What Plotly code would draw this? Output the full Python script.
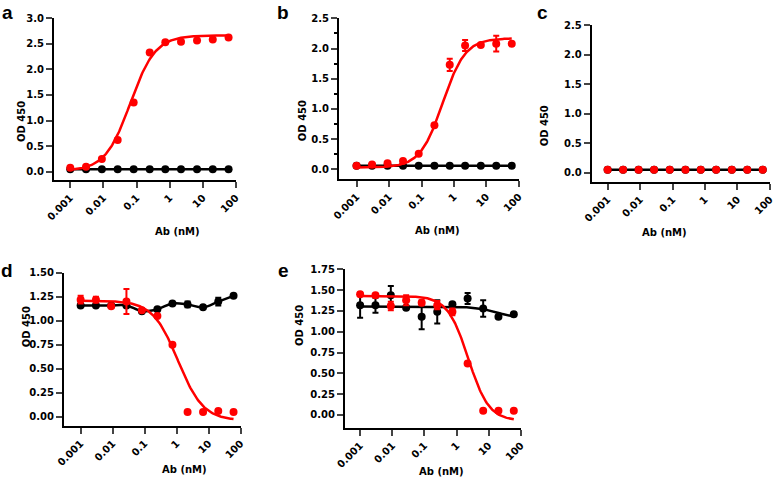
import numpy as np
import plotly.graph_objects as go

# antibody concentrations (nM), 3-fold dilution series
conc = [0.001, 0.003, 0.009, 0.027, 0.082, 0.25, 0.74, 2.2, 6.7, 20, 60]
x_tickvals = [0.001, 0.01, 0.1, 1, 10, 100]
x_ticktext = ["0.001", "0.01", "0.1", "1", "10", "100"]

# panel a
a_red = [0.08, 0.10, 0.25, 0.62, 1.35, 2.33, 2.53, 2.54, 2.56, 2.58, 2.62]
a_black = [0.05, 0.05, 0.05, 0.05, 0.05, 0.05, 0.05, 0.05, 0.05, 0.05, 0.05]
a_red_fit = [0.02, 2.66, 0.065, 1.15]          # bottom, top, EC50, hill

# panel b
b_red = [0.06, 0.08, 0.10, 0.14, 0.26, 0.73, 1.73, 2.05, 2.06, 2.08, 2.08]
b_red_err = [0, 0, 0, 0, 0, 0, 0.10, 0.09, 0, 0.13, 0]
b_black = [0.06, 0.06, 0.06, 0.06, 0.06, 0.06, 0.06, 0.06, 0.06, 0.06, 0.06]
b_red_fit = [0.03, 2.17, 0.45, 1.25]

# panel c
c_red = [0.05, 0.05, 0.05, 0.05, 0.05, 0.05, 0.05, 0.05, 0.05, 0.05, 0.05]
c_black = [0.05, 0.05, 0.05, 0.05, 0.05, 0.05, 0.05, 0.05, 0.05, 0.05, 0.05]

# panel d
d_red = [1.22, 1.22, 1.15, 1.20, 1.11, 1.05, 0.75, 0.05, 0.05, 0.06, 0.05]
d_red_err = [0.04, 0.03, 0, 0.13, 0, 0, 0, 0, 0, 0, 0]
d_black = [1.16, 1.16, 1.16, 1.16, 1.10, 1.12, 1.18, 1.17, 1.14, 1.20, 1.26]
d_black_err = [0, 0, 0, 0, 0, 0, 0, 0.03, 0, 0.04, 0]
d_red_fit = [-0.04, 1.21, 1.1, 1.1]

# panel e
e_red = [1.45, 1.44, 1.31, 1.38, 1.35, 1.32, 1.24, 0.62, 0.05, 0.05, 0.05]
e_red_err = [0, 0, 0.05, 0.06, 0.03, 0.05, 0.04, 0, 0, 0, 0]
e_black = [1.32, 1.32, 1.44, 1.29, 1.18, 1.24, 1.33, 1.40, 1.28, 1.18, 1.21]
e_black_err = [0.15, 0.09, 0.11, 0, 0.15, 0.14, 0, 0.065, 0.10, 0, 0]
e_red_fit = [-0.07, 1.43, 2.3, 1.35]
e_black_fit = [1.15, 1.305, 20, 1.2]

W, H = 775, 484
FONT = "DejaVu Sans, Arial, sans-serif"
LFONT = "Liberation Sans, Arial, sans-serif"
RED = "#ff0000"
BLACK = "#000000"


def four_pl(x, p, rising=True):
    bottom, top, mid, hill = p
    r = (x / mid) ** hill
    if rising:
        return bottom + (top - bottom) * r / (1 + r)
    return bottom + (top - bottom) / (1 + r)


xfit = np.logspace(np.log10(conc[0]), np.log10(conc[-1]), 200)

# pixel boxes: left, right, top, bottom; y range and ticks; letter centre; y-title x
panels = {
    "a": dict(box=(54, 236, 18, 180), xr=-3.49, yr=(-0.16, 3.0), dt=0.5, fmt=".1f", minor=False, lc=(7, 12), tx=14),
    "b": dict(box=(339, 519, 18.3, 179), xr=-3.54, yr=(-0.16, 2.5), dt=0.5, fmt=".1f", minor=True, lc=(283, 12), tx=302),
    "c": dict(box=(591.7, 770, 25, 181.7), xr=-3.49, yr=(-0.152, 2.5), dt=0.5, fmt=".1f", minor=False, lc=(542, 12), tx=552),
    "d": dict(box=(64, 240.7, 272.7, 425.7), xr=-3.52, yr=(-0.094, 1.5), dt=0.25, fmt=".2f", minor=False, lc=(7, 270), tx=19),
    "e": dict(box=(345, 521, 269.3, 427.7), xr=-3.47, yr=(-0.153, 1.75), dt=0.25, fmt=".2f", minor=False, lc=(283, 270), tx=299),
}

fig = go.Figure()
layout = {}
annotations = []
tfont = dict(family=FONT, size=10, color=BLACK, weight="bold")

for i, (name, p) in enumerate(panels.items()):
    n = "" if i == 0 else str(i + 1)
    l, r, t, b = p["box"]
    xa = dict(
        type="log", domain=[l / W, r / W], range=[p["xr"], 2.002], anchor="y" + n,
        tickvals=x_tickvals, ticktext=x_ticktext, tickangle=-45, automargin=False,
        showline=True, linewidth=2, linecolor=BLACK, ticks="outside", ticklen=6, tickwidth=2,
        showgrid=False, zeroline=False, tickfont=tfont,
    )
    ya = dict(
        domain=[1 - b / H, 1 - t / H], range=[p["yr"][0], p["yr"][1] + 0.001], anchor="x" + n,
        tick0=0, dtick=p["dt"], tickformat=p["fmt"], automargin=False,
        showline=True, linewidth=2, linecolor=BLACK, ticks="outside", ticklen=6, tickwidth=2,
        showgrid=False, zeroline=False, tickfont=tfont,
    )
    if p["minor"]:
        ya["minor"] = dict(ticks="outside", ticklen=3, tickwidth=1.5, tickcolor=BLACK, dtick=p["dt"] / 2)
    layout["xaxis" + n] = xa
    layout["yaxis" + n] = ya

    # panel letter and axis titles
    lx, ly = p["lc"]
    annotations.append(dict(text=name, x=lx / W, y=1 - ly / H, borderpad=0,
                            xref="paper", yref="paper", showarrow=False, xanchor="center", yanchor="middle",
                            font=dict(family=LFONT, size=19, color=BLACK, weight="bold")))
    annotations.append(dict(text="OD 450", x=p["tx"] / W, y=1 - ((t + b) / 2) / H, textangle=-90,
                            xref="paper", yref="paper", showarrow=False, font=tfont))
    annotations.append(dict(text="Ab (nM)", x=((l + r) / 2 + 8) / W, y=1 - (b + 51) / H,
                            xref="paper", yref="paper", showarrow=False, font=tfont))


def pts(y, color, axis, err=None, mode="markers", shape="linear"):
    n = "" if axis == 1 else str(axis)
    tr = go.Scatter(x=conc, y=y, mode=mode, xaxis="x" + n, yaxis="y" + n,
                    marker=dict(color=color, size=8), line=dict(color=color, width=2.5, shape=shape),
                    showlegend=False)
    if err is not None:
        tr.error_y = dict(type="data", array=err, color=color, thickness=2, width=3)
    return tr


def curve(yvals, color, axis):
    n = "" if axis == 1 else str(axis)
    return go.Scatter(x=xfit, y=yvals, mode="lines", xaxis="x" + n, yaxis="y" + n,
                      line=dict(color=color, width=2.5), showlegend=False)


# a
fig.add_trace(pts(a_black, BLACK, 1, mode="lines+markers"))
fig.add_trace(curve(four_pl(xfit, a_red_fit), RED, 1))
fig.add_trace(pts(a_red, RED, 1))
# b
fig.add_trace(pts(b_black, BLACK, 2, mode="lines+markers"))
fig.add_trace(curve(four_pl(xfit, b_red_fit), RED, 2))
fig.add_trace(pts(b_red, RED, 2, err=b_red_err))
# c
fig.add_trace(pts(c_black, BLACK, 3, mode="lines+markers"))
fig.add_trace(pts(c_red, RED, 3))
# d
fig.add_trace(pts(d_black, BLACK, 4, err=d_black_err, mode="lines+markers", shape="spline"))
fig.add_trace(curve(four_pl(xfit, d_red_fit, rising=False), RED, 4))
fig.add_trace(pts(d_red, RED, 4, err=d_red_err))
# e
fig.add_trace(curve(four_pl(xfit, e_black_fit, rising=False), BLACK, 5))
fig.add_trace(pts(e_black, BLACK, 5, err=e_black_err))
fig.add_trace(curve(four_pl(xfit, e_red_fit, rising=False), RED, 5))
fig.add_trace(pts(e_red, RED, 5, err=e_red_err))

fig.update_layout(
    width=W, height=H, margin=dict(l=0, r=0, t=0, b=0, autoexpand=False),
    paper_bgcolor="white", plot_bgcolor="white",
    annotations=annotations, **layout,
)

# drop the default page margin so the figure sits at the window's corner
fig.write_html("out.html", config={"displayModeBar": False},
               post_script="document.body.style.margin='0';")
